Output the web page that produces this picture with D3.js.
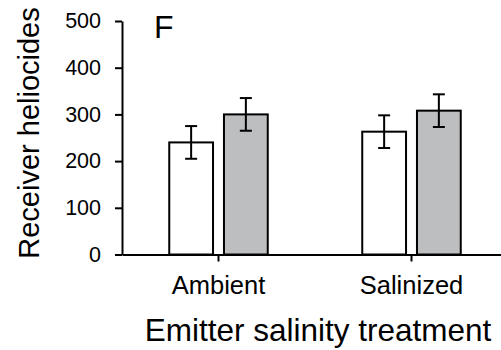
<!DOCTYPE html>
<html>
<head>
<meta charset="utf-8">
<script src="https://cdn.jsdelivr.net/npm/d3@7"></script>
<style>
  body { margin: 0; background: #fff; }
  svg { display: block; font-family: "Liberation Sans", Arial, sans-serif; }
</style>
</head>
<body>
<script>
// data
var categories = ["Ambient", "Salinized"];
var series = ["Receiver ambient", "Receiver salinized"];
var meansAmbientReceiver = [240, 263];
var meansSalinizedReceiver = [300, 308];
var errAmbientReceiver = [35, 35];
var errSalinizedReceiver = [35, 35];
var yTicks = [0, 100, 200, 300, 400, 500];

var width = 501;
var height = 350;
var plotLeft = 122, plotRight = 508, plotTop = 21, plotBottom = 254.5;

var rows = [];
categories.forEach(function(c, i) {
    rows.push({cat: c, key: series[0], mean: meansAmbientReceiver[i], err: errAmbientReceiver[i]});
    rows.push({cat: c, key: series[1], mean: meansSalinizedReceiver[i], err: errSalinizedReceiver[i]});
});

var svg = d3.select("body").append("svg")
            .attr("width", width)
            .attr("height", height);

var xScale = d3.scaleBand().domain(categories).range([plotLeft, plotRight]);
var xSub = d3.scaleBand().domain(series).range([0, 98.5]).paddingInner(0.2);
var yScale = d3.scaleLinear().domain([0, 500]).range([plotBottom, plotTop]);
var fills = {"Receiver ambient": "#ffffff", "Receiver salinized": "#bdbec0"};

var barX = function(d) {
    return xScale(d.cat) + xScale.bandwidth() / 2 - 49.25 + xSub(d.key);
};

// bars
svg.selectAll("rect.bar")
   .data(rows)
   .enter()
   .append("rect")
   .attr("class", "bar")
   .attr("x", barX)
   .attr("y", function(d) { return yScale(d.mean); })
   .attr("width", xSub.bandwidth())
   .attr("height", function(d) { return yScale(0) - yScale(d.mean); })
   .attr("fill", function(d) { return fills[d.key]; })
   .attr("stroke", "#000")
   .attr("stroke-width", 2);

// error bars
var eb = svg.selectAll("g.err")
   .data(rows)
   .enter()
   .append("g")
   .attr("class", "err")
   .attr("stroke", "#000")
   .attr("stroke-width", 2);
eb.append("line")
  .attr("x1", function(d) { return barX(d) + xSub.bandwidth() / 2; })
  .attr("x2", function(d) { return barX(d) + xSub.bandwidth() / 2; })
  .attr("y1", function(d) { return yScale(d.mean + d.err); })
  .attr("y2", function(d) { return yScale(d.mean - d.err); });
[1, -1].forEach(function(s) {
    eb.append("line")
      .attr("x1", function(d) { return barX(d) + xSub.bandwidth() / 2 - 6; })
      .attr("x2", function(d) { return barX(d) + xSub.bandwidth() / 2 + 6; })
      .attr("y1", function(d) { return yScale(d.mean + s * d.err); })
      .attr("y2", function(d) { return yScale(d.mean + s * d.err); });
});

// y axis
var yAxis = d3.axisLeft(yScale).tickValues(yTicks).tickSize(7).tickSizeOuter(0).tickPadding(14);
var gy = svg.append("g")
   .attr("transform", "translate(" + plotLeft + ",0)")
   .call(yAxis);
gy.selectAll("path, line").attr("stroke", "#000").attr("stroke-width", 2);
gy.selectAll("text").attr("font-size", 21.5).attr("font-family", "Liberation Sans, Arial, sans-serif").attr("fill", "#000");

// x axis
var xAxis = d3.axisBottom(xScale).tickSize(7).tickSizeOuter(0).tickPadding(14);
var gx = svg.append("g")
   .attr("transform", "translate(0," + plotBottom + ")")
   .call(xAxis);
gx.selectAll("path, line").attr("stroke", "#000").attr("stroke-width", 2);
gx.selectAll("text").attr("font-size", 25.5).attr("font-family", "Liberation Sans, Arial, sans-serif").attr("fill", "#000");

// panel letter
svg.append("text")
   .attr("x", 154)
   .attr("y", 38)
   .attr("font-size", 32)
   .text("F");

// axis titles
svg.append("text")
   .attr("transform", "translate(39,133) rotate(-90)")
   .style("text-anchor", "middle")
   .attr("font-size", 29)
   .text("Receiver heliocides");

svg.append("text")
   .attr("x", 318)
   .attr("y", 341)
   .style("text-anchor", "middle")
   .attr("font-size", 31.5)
   .text("Emitter salinity treatment");
</script>
</body>
</html>
